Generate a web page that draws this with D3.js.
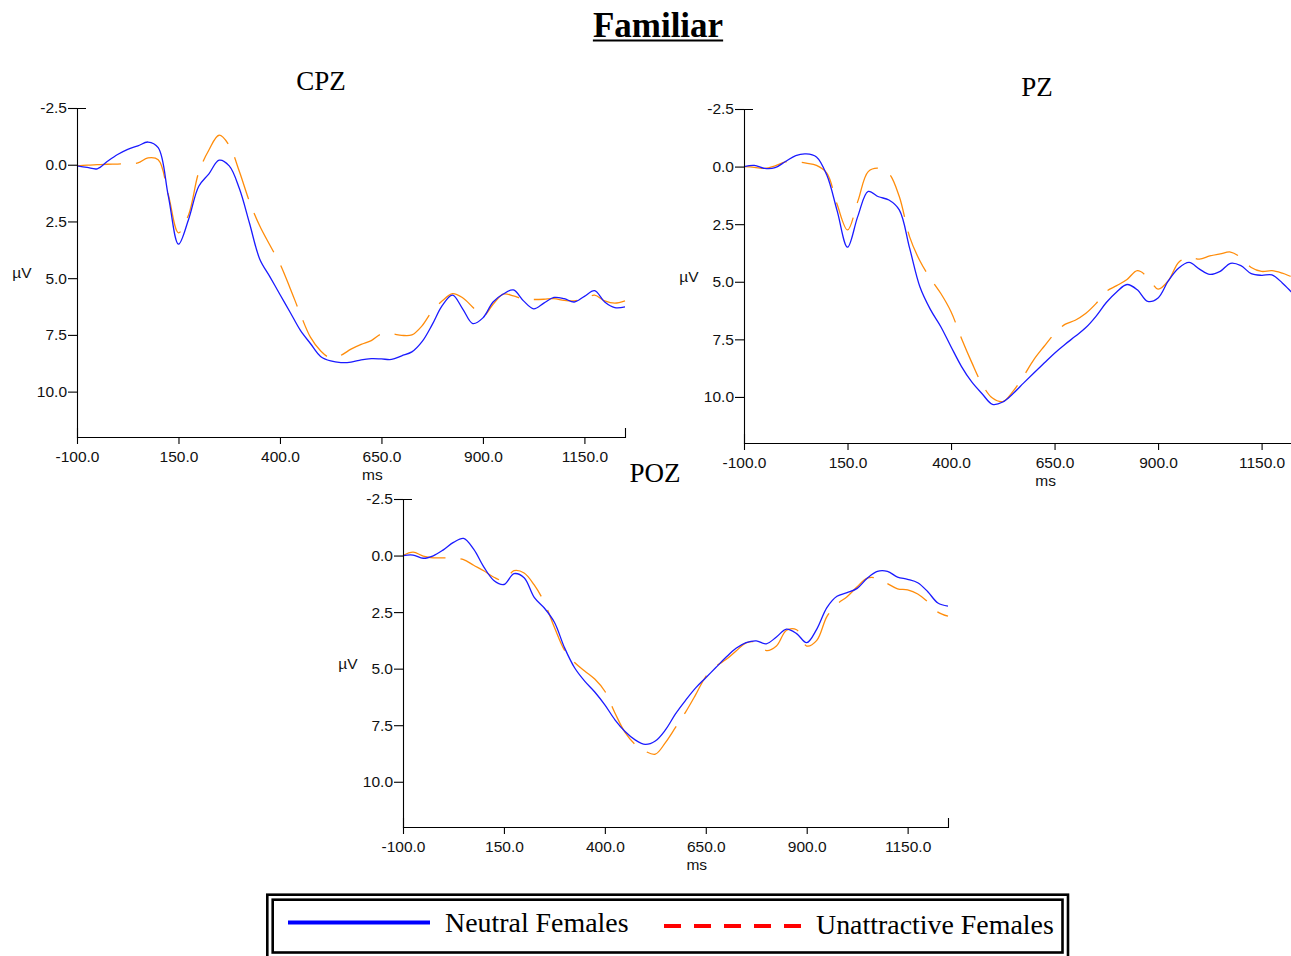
<!DOCTYPE html>
<html>
<head>
<meta charset="utf-8">
<script src="https://cdn.jsdelivr.net/npm/d3@7"></script>
<style>
  html, body { margin: 0; padding: 0; background: #fff; }
  svg { display: block; }
</style>
</head>
<body>
<svg id="chart" width="1291" height="956"></svg>
<script>
// Sample times (ms) shared by every waveform
const sampleTimes = [-100, -75, -50, -25, 0, 25, 50, 75, 100, 125, 150, 175, 200, 225, 250, 275,
  300, 325, 350, 375, 400, 425, 450, 475, 500, 525, 550, 575, 600, 625, 650, 675, 700, 725, 750,
  775, 800, 825, 850, 875, 900, 925, 950, 975, 1000, 1025, 1050, 1075, 1100, 1125, 1150, 1175,
  1200, 1225, 1250];

// Grand-average amplitudes (µV), one value per sample time
const cpzNeutral = [0.05, 0.12, 0.18, -0.15, -0.45, -0.68, -0.83, -1.0, -0.75, 1.38, 3.5, 2.4,
  0.95, 0.4, -0.2, 0.05, 1.05, 2.58, 4.15, 4.93, 5.72, 6.5, 7.29, 7.88, 8.45, 8.65, 8.72, 8.7,
  8.6, 8.55, 8.56, 8.58, 8.42, 8.25, 7.8, 7.05, 6.2, 5.75, 6.35, 7.0, 6.75, 6.05, 5.7, 5.52, 6.0,
  6.35, 6.1, 5.85, 5.9, 6.05, 5.8, 5.55, 6.05, 6.3, 6.27];
const cpzUnattractive = [0.05, 0.02, 0.0, -0.02, -0.03, -0.05, -0.08, -0.3, -0.22, 1.32, 3.0,
  2.2, 0.33, -0.65, -1.3, -0.85, 0.3, 1.63, 2.69, 3.54, 4.37, 5.44, 6.57, 7.6, 8.2, 8.52, 8.4,
  8.13, 7.92, 7.75, 7.46, 7.45, 7.52, 7.5, 7.1, 6.45, 6.0, 5.68, 5.86, 6.28, 6.68, 6.15, 5.7,
  5.78, 5.93, 5.94, 5.93, 5.9, 5.98, 6.0, 5.9, 5.75, 6.0, 6.1, 6.0];

const pzNeutral = [0.0, -0.05, 0.08, 0.05, -0.22, -0.48, -0.55, -0.42, 0.37, 1.92, 3.5, 2.15,
  1.08, 1.31, 1.45, 1.88, 3.54, 5.23, 6.2, 6.94, 7.82, 8.67, 9.35, 9.86, 10.32, 10.22, 9.85, 9.4,
  8.96, 8.53, 8.1, 7.72, 7.37, 7.0, 6.5, 5.9, 5.44, 5.12, 5.35, 5.85, 5.7, 4.95, 4.4, 4.16, 4.45,
  4.68, 4.55, 4.2, 4.3, 4.65, 4.72, 4.7, 5.05, 5.5, 5.95];
const pzUnattractive = [0.0, 0.03, 0.08, -0.03, -0.2, -0.22, -0.15, -0.05, 0.28, 1.65, 2.75,
  1.5, 0.22, 0.07, 0.3, 1.3, 3.05, 4.1, 4.85, 5.5, 6.3, 7.45, 8.5, 9.45, 10.05, 10.2, 9.75, 9.1,
  8.38, 7.8, 7.25, 6.85, 6.67, 6.38, 5.95, 5.42, 5.17, 4.9, 4.52, 4.8, 5.32, 4.95, 4.15, 3.93,
  4.02, 3.88, 3.79, 3.71, 3.95, 4.38, 4.55, 4.52, 4.63, 4.8, 4.95];

const pozNeutral = [0.0, -0.02, 0.12, 0.01, -0.25, -0.58, -0.76, -0.28, 0.5, 1.1, 1.28, 0.8,
  0.98, 1.85, 2.32, 2.95, 4.07, 4.96, 5.55, 6.03, 6.6, 7.26, 7.78, 8.15, 8.35, 8.2, 7.71, 7.0,
  6.4, 5.85, 5.4, 4.95, 4.5, 4.1, 3.85, 3.77, 3.9, 3.6, 3.25, 3.45, 3.85, 3.25, 2.3, 1.8, 1.64,
  1.45, 1.0, 0.7, 0.7, 0.95, 1.05, 1.2, 1.6, 2.1, 2.24];
const pozUnattractive = [0.0, -0.15, 0.02, 0.1, 0.1, 0.12, 0.18, 0.43, 0.67, 0.96, 1.1, 0.67,
  0.77, 1.3, 2.07, 3.17, 4.18, 4.73, 5.1, 5.46, 6.0, 6.96, 7.82, 8.35, 8.65, 8.78, 8.27, 7.6,
  6.92, 6.15, 5.35, 4.9, 4.6, 4.22, 3.86, 3.83, 4.2, 4.0, 3.3, 3.28, 4.0, 3.75, 2.7, 2.15, 1.82,
  1.38, 1.0, 1.0, 1.24, 1.47, 1.52, 1.7, 2.05, 2.5, 2.68];

const timeTicks = [-100, 150, 400, 650, 900, 1150];
const ampTicks = [-2.5, 0, 2.5, 5, 7.5, 10];
const seriesLabels = ["Neutral Females", "Unattractive Females"];
const figureTitle = "Familiar";

const W = 1291, H = 956;
const svg = d3.select("#chart");
svg.append("rect").attr("width", W).attr("height", H).attr("fill", "#fff");

const NEUTRAL_COLOR = "#1a1aff";
const UNATTR_COLOR = "#ff8c0a";
const AXIS_FONT = "'Liberation Sans', Arial, sans-serif";
const SERIF = "'Liberation Serif', 'Times New Roman', serif";

// One decimal, with a plain hyphen for negative values
const tickFmt = d => d3.format(".1f")(d).replace("\u2212", "-");

// Figure title, bold and underlined
const titleText = svg.append("text")
  .attr("x", 658).attr("y", 37)
  .attr("text-anchor", "middle")
  .attr("font-family", SERIF)
  .attr("font-weight", "bold")
  .attr("font-size", 35)
  .attr("fill", "#000")
  .text(figureTitle);
const tb = titleText.node().getBBox();
svg.append("line")
  .attr("x1", tb.x).attr("x2", tb.x + tb.width)
  .attr("y1", 40.5).attr("y2", 40.5)
  .attr("stroke", "#000").attr("stroke-width", 2);

// Electrode panels
const panels = [
  { name: "CPZ", neutral: cpzNeutral, unattr: cpzUnattractive,
    left: 77, right: 625, top: 108, bottom: 437, titleX: 321, titleY: 90 },
  { name: "PZ", neutral: pzNeutral, unattr: pzUnattractive,
    left: 744, right: 1303, top: 109, bottom: 443, titleX: 1037, titleY: 96 },
  { name: "POZ", neutral: pozNeutral, unattr: pozUnattractive,
    left: 403, right: 948, top: 499, bottom: 827, titleX: 655, titleY: 482 }
];

panels.forEach(p => {
  const x = d3.scaleLinear().domain([-100, 1250]).range([p.left, p.right]);
  const y = d3.scaleLinear().domain([-2.5, 12]).range([p.top, p.bottom]);
  const g = svg.append("g");

  const line = d3.line()
    .x((d, i) => x(sampleTimes[i]))
    .y(d => y(d))
    .curve(d3.curveCatmullRom.alpha(0.5));

  g.append("path")
    .datum(p.unattr)
    .attr("d", line)
    .attr("fill", "none")
    .attr("stroke", UNATTR_COLOR)
    .attr("stroke-width", 1.3)
    .attr("stroke-dasharray", "44,15");

  g.append("path")
    .datum(p.neutral)
    .attr("d", line)
    .attr("fill", "none")
    .attr("stroke", NEUTRAL_COLOR)
    .attr("stroke-width", 1.3);

  // Amplitude axis (negative up)
  const yAxis = g.append("g")
    .attr("transform", `translate(${p.left},0)`)
    .call(d3.axisLeft(y).tickValues(ampTicks).tickFormat(tickFmt)
      .tickSize(9).tickSizeOuter(-9).tickPadding(1));
  // Time axis
  const xAxis = g.append("g")
    .attr("transform", `translate(0,${p.bottom})`)
    .call(d3.axisBottom(x).tickValues(timeTicks).tickFormat(tickFmt)
      .tickSize(7).tickSizeOuter(-9).tickPadding(6.5));

  [yAxis, xAxis].forEach(a => {
    a.attr("font-family", AXIS_FONT).attr("font-size", 15.5);
    a.selectAll("text").attr("fill", "#111");
    a.selectAll("line,path").attr("stroke", "#000").attr("stroke-width", 1.1);
  });

  g.append("text")
    .attr("x", p.left - 55).attr("y", y(4.75) + 5.5)
    .attr("text-anchor", "middle")
    .attr("font-family", AXIS_FONT).attr("font-size", 15.5)
    .attr("fill", "#111")
    .text("µV");

  g.append("text")
    .attr("x", x(650) - 9).attr("y", p.bottom + 43)
    .attr("text-anchor", "middle")
    .attr("font-family", AXIS_FONT).attr("font-size", 15.5)
    .attr("fill", "#111")
    .text("ms");

  svg.append("text")
    .attr("x", p.titleX).attr("y", p.titleY)
    .attr("text-anchor", "middle")
    .attr("font-family", SERIF).attr("font-size", 27)
    .attr("fill", "#000")
    .text(p.name);
});

// Legend with a double border
const legend = svg.append("g");
legend.append("rect")
  .attr("x", 267.3).attr("y", 894.7).attr("width", 1068 - 267.3).attr("height", 64)
  .attr("fill", "none").attr("stroke", "#000").attr("stroke-width", 2.6);
legend.append("rect")
  .attr("x", 272.7).attr("y", 899.7).attr("width", 1062.5 - 272.7).attr("height", 952.5 - 899.7)
  .attr("fill", "none").attr("stroke", "#000").attr("stroke-width", 2.6);

legend.append("line")
  .attr("x1", 288).attr("x2", 430).attr("y1", 922.5).attr("y2", 922.5)
  .attr("stroke", "#0000ff").attr("stroke-width", 4);
legend.append("text")
  .attr("x", 445).attr("y", 932)
  .attr("font-family", SERIF).attr("font-size", 27.9).attr("fill", "#000")
  .text(seriesLabels[0]);

legend.append("line")
  .attr("x1", 664).attr("x2", 806).attr("y1", 926).attr("y2", 926)
  .attr("stroke", "#ff0000").attr("stroke-width", 4)
  .attr("stroke-dasharray", "17,13");
legend.append("text")
  .attr("x", 816).attr("y", 934)
  .attr("font-family", SERIF).attr("font-size", 27.9).attr("fill", "#000")
  .text(seriesLabels[1]);
</script>
</body>
</html>
